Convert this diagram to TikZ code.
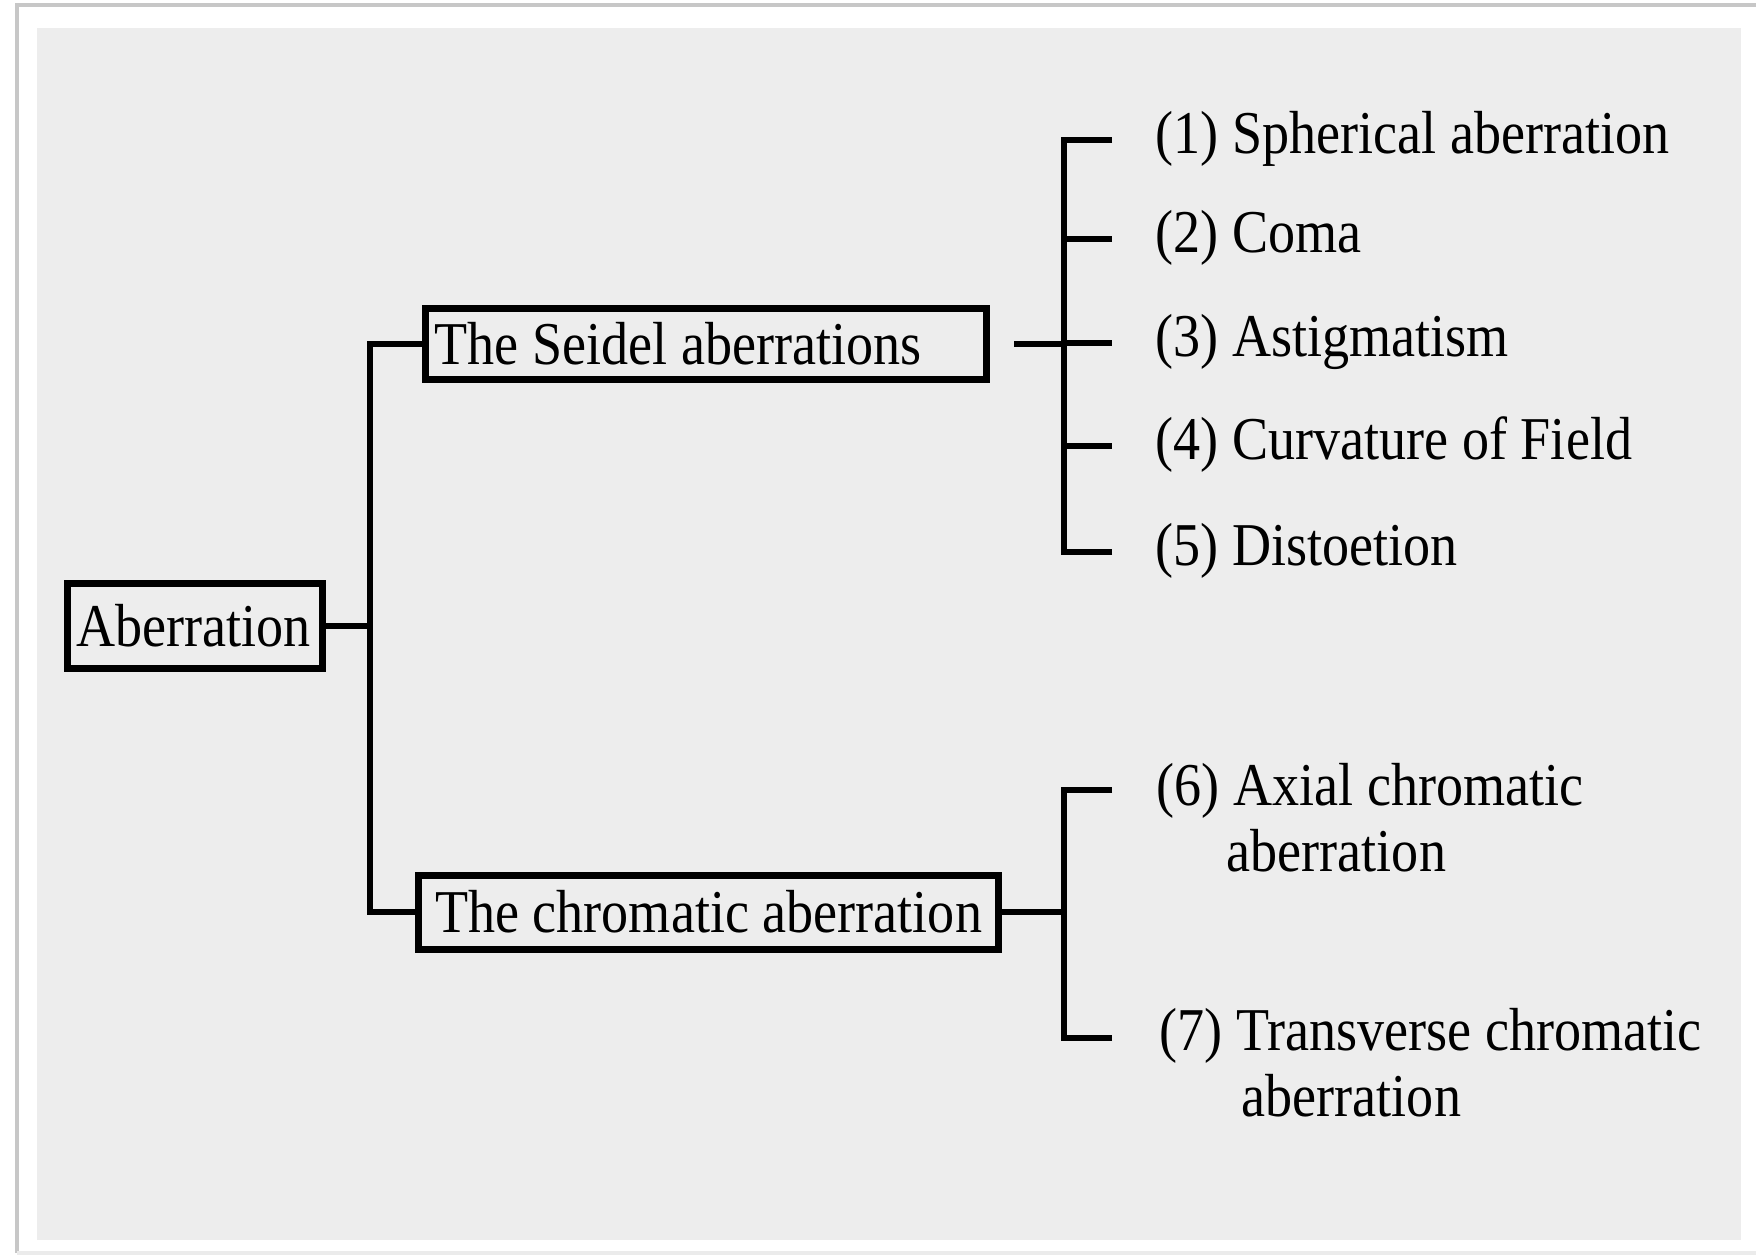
\documentclass[tikz,border=0pt]{standalone}
\usepackage{fontspec}
\setmainfont{Liberation Serif}[FakeStretch=0.89]

\begin{document}
\begin{tikzpicture}%
  [x=0.1mm,y=-0.1mm,
   font=\fontsize{17.3}{18.6}\selectfont,
   box/.style=
    {draw,line width=2pt,inner xsep=0.9mm,inner ysep=0pt,align=flush left,anchor=west},
   item/.style=
    {inner sep=0pt,anchor=base west,align=left},
   link/.style={line width=1.7pt},
   frame/.style={draw=black!22,line width=1.2pt}
  ]
  \useasboundingbox (0,0) rectangle (1756,1256);
  \fill[white] (0,0) rectangle (1756,1256);
  \draw[frame] (17,1253) -- (17,5) -- (1756,5);
  \draw[draw=black!8,line width=1pt] (17,1253) -- (1756,1253);
  \fill[black!7] (37,28) rectangle (1741,1240);

  \node[box,text width=23.7mm,minimum height=8.5mm] (abr) at (64,626) {Aberration};
  \node[box,text width=54.3mm,minimum height=7.1mm] (seidel) at (422,344) {The Seidel aberrations};
  \node[box,minimum width=58mm,minimum height=7.4mm] (chrom) at (415,912) {The chromatic aberration};

  \coordinate (fork) at (370,626);
  \draw[link] (abr.east) -- (fork);
  \draw[link] (seidel.west) -| (fork);
  \draw[link] (chrom.west) -| (fork);

  % Seidel branches
  \coordinate (sfork) at (1064,344);
  \coordinate (t1) at (1112,140);
  \coordinate (t2) at (1112,239);
  \coordinate (t3) at (1112,343);
  \coordinate (t4) at (1112,446);
  \coordinate (t5) at (1112,552);
  \draw[link] ([xshift=2.4mm]seidel.east) -- (sfork);
  \draw[link] (t1) -| (sfork);
  \draw[link] (t5) -| (sfork);
  \draw[link] (sfork |- t2) -- (t2);
  \draw[link] (sfork |- t3) -- (t3);
  \draw[link] (sfork |- t4) -- (t4);
  \node[item] (s1) at (1155,153) {(1) Spherical aberration};
  \node[item] (s2) at (1155,252) {(2) Coma};
  \node[item] (s3) at (1155,356) {(3) Astigmatism};
  \node[item] (s4) at (1155,459) {(4) Curvature of Field};
  \node[item] (s5) at (1155,565) {(5) Distoetion};

  % chromatic branches
  \coordinate (cfork) at (1064,912);
  \coordinate (t6) at (1112,790);
  \coordinate (t7) at (1112,1038);
  \draw[link] (chrom.east) -- (cfork);
  \draw[link] (t6) -| (cfork);
  \draw[link] (t7) -| (cfork);
  \node[item] (c6) at (1156,871) {(6) Axial chromatic\\\hspace*{7mm}aberration};
  \node[item] (c7) at (1159,1116) {(7) Transverse chromatic\\\hspace*{8.2mm}aberration};

\end{tikzpicture}
\end{document}
